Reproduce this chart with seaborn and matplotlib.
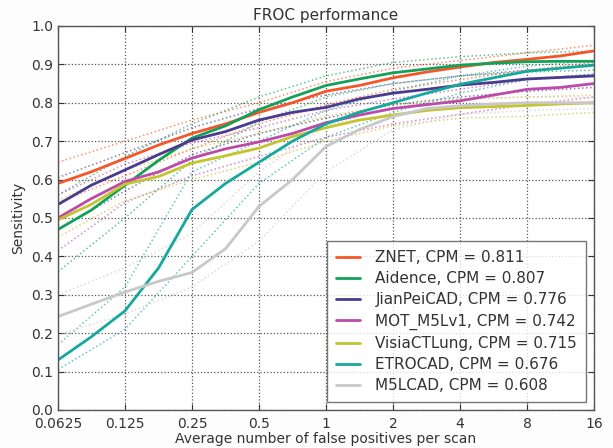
import pandas as pd
import numpy as np
import matplotlib
matplotlib.use('Agg')
import matplotlib.pyplot as plt
import seaborn as sns

# average false positives per scan (half-octave steps)
fps = [0.0625, 0.088, 0.125, 0.177, 0.25, 0.354, 0.5, 0.707, 1, 1.41, 2, 2.83, 4, 5.66, 8, 11.3, 16]
# confidence bands are read at octave steps only
band_fps = [0.0625, 0.125, 0.25, 0.5, 1, 2, 4, 8, 16]

systems = ['ZNET', 'Aidence', 'JianPeiCAD', 'MOT_M5Lv1', 'VisiaCTLung', 'ETROCAD', 'M5LCAD']
cpm = [0.811, 0.807, 0.776, 0.742, 0.715, 0.676, 0.608]
colors = ['#f4562a', '#13a058', '#4a3b8e', '#bd4aa8', '#c4c42e', '#14a99c', '#c8c8c8']

znet = [0.59, 0.62, 0.655, 0.69, 0.72, 0.745, 0.775, 0.80, 0.83, 0.845, 0.865, 0.88, 0.893, 0.905, 0.913, 0.922, 0.935]
aidence = [0.47, 0.52, 0.585, 0.65, 0.708, 0.74, 0.782, 0.815, 0.845, 0.862, 0.878, 0.888, 0.898, 0.903, 0.907, 0.908, 0.908]
jianpei = [0.535, 0.585, 0.625, 0.665, 0.703, 0.725, 0.755, 0.775, 0.788, 0.81, 0.825, 0.835, 0.846, 0.853, 0.862, 0.866, 0.87]
mot = [0.50, 0.55, 0.595, 0.62, 0.656, 0.68, 0.698, 0.72, 0.748, 0.768, 0.785, 0.795, 0.805, 0.82, 0.835, 0.84, 0.85]
visia = [0.495, 0.535, 0.588, 0.608, 0.643, 0.662, 0.682, 0.712, 0.735, 0.755, 0.768, 0.78, 0.787, 0.79, 0.793, 0.797, 0.80]
etro = [0.13, 0.19, 0.258, 0.37, 0.522, 0.59, 0.645, 0.70, 0.745, 0.775, 0.80, 0.825, 0.848, 0.865, 0.882, 0.89, 0.898]
m5l = [0.243, 0.275, 0.307, 0.335, 0.358, 0.42, 0.53, 0.60, 0.686, 0.73, 0.764, 0.785, 0.792, 0.797, 0.80, 0.80, 0.80]

znet_lo = [0.54, 0.61, 0.68, 0.745, 0.795, 0.835, 0.86, 0.885, 0.905]
znet_hi = [0.645, 0.70, 0.755, 0.80, 0.855, 0.89, 0.91, 0.93, 0.95]
aidence_lo = [0.36, 0.50, 0.65, 0.75, 0.815, 0.85, 0.87, 0.88, 0.885]
aidence_hi = [0.56, 0.66, 0.745, 0.815, 0.87, 0.905, 0.92, 0.93, 0.935]
jianpei_lo = [0.47, 0.57, 0.665, 0.72, 0.76, 0.795, 0.815, 0.83, 0.84]
jianpei_hi = [0.605, 0.67, 0.735, 0.785, 0.82, 0.85, 0.87, 0.885, 0.895]
mot_lo = [0.415, 0.54, 0.61, 0.66, 0.71, 0.745, 0.77, 0.795, 0.815]
mot_hi = [0.56, 0.64, 0.695, 0.735, 0.78, 0.81, 0.835, 0.86, 0.875]
visia_lo = [0.45, 0.545, 0.60, 0.645, 0.70, 0.74, 0.76, 0.765, 0.775]
visia_hi = [0.545, 0.625, 0.68, 0.72, 0.765, 0.795, 0.81, 0.815, 0.82]
etro_lo = [0.105, 0.21, 0.40, 0.59, 0.71, 0.775, 0.825, 0.86, 0.875]
etro_hi = [0.17, 0.32, 0.62, 0.70, 0.78, 0.83, 0.87, 0.895, 0.91]
m5l_lo = [0.195, 0.25, 0.32, 0.44, 0.62, 0.73, 0.77, 0.78, 0.785]
m5l_hi = [0.30, 0.37, 0.46, 0.62, 0.74, 0.79, 0.81, 0.815, 0.815]

curves = [znet, aidence, jianpei, mot, visia, etro, m5l]
lows = [znet_lo, aidence_lo, jianpei_lo, mot_lo, visia_lo, etro_lo, m5l_lo]
highs = [znet_hi, aidence_hi, jianpei_hi, mot_hi, visia_hi, etro_hi, m5l_hi]

labels = [f'{s}, CPM = {c:.3f}' for s, c in zip(systems, cpm)]
palette = dict(zip(labels, colors))

rows = []
for lab, ys in zip(labels, curves):
    for x, y in zip(fps, ys):
        rows.append({'fp': x, 'sens': y, 'system': lab})
df = pd.DataFrame(rows)

band_rows = []
for lab, lo, hi in zip(labels, lows, highs):
    for x, y in zip(band_fps, lo):
        band_rows.append({'fp': x, 'sens': y, 'system': lab, 'bound': 'lo'})
    for x, y in zip(band_fps, hi):
        band_rows.append({'fp': x, 'sens': y, 'system': lab, 'bound': 'hi'})
bands = pd.DataFrame(band_rows)

sns.set_style('white')
plt.rcParams['font.family'] = ['DejaVu Sans']

fig = plt.figure(figsize=(6.13, 4.48), dpi=100, facecolor='#fdfdfd')
ax = fig.add_axes([0.0946, 0.085, 0.8744, 0.857])
ax.set_facecolor('white')

# dotted confidence bands
for lab in labels:
    for b in ['lo', 'hi']:
        sub = bands[(bands['system'] == lab) & (bands['bound'] == b)]
        sns.lineplot(data=sub, x='fp', y='sens', color=palette[lab], linestyle=':',
                     linewidth=1.1, alpha=0.65, ax=ax, legend=False)

sns.lineplot(data=df, x='fp', y='sens', hue='system', palette=palette, linewidth=2,
             ax=ax, hue_order=labels)

ax.set_xscale('log', base=2)
ax.set_xlim(0.0625, 16)
ax.set_ylim(0, 1)
xt = [0.0625, 0.125, 0.25, 0.5, 1, 2, 4, 8, 16]
ax.set_xticks(xt)
ax.set_xticklabels(['0.0625', '0.125', '0.25', '0.5', '1', '2', '4', '8', '16'])
ax.minorticks_off()
ax.set_yticks(np.arange(0, 1.01, 0.1))
ax.set_yticklabels([f'{v:.1f}' for v in np.arange(0, 1.01, 0.1)])
ax.tick_params(direction='in', length=4, width=0.8, colors='#333333', labelsize=10,
               top=True, right=True, bottom=True, left=True, labelcolor='#333333')
ax.tick_params(axis='x', pad=5)
ax.grid(True, linestyle=':', color='#555555', linewidth=0.9)
for s in ax.spines.values():
    s.set_color('#555555')
    s.set_linewidth(1.0)

ax.set_xlabel('Average number of false positives per scan', fontsize=10, color='#333333', labelpad=1)
ax.set_ylabel('Sensitivity', fontsize=10, color='#333333', labelpad=4)
ax.set_title('FROC performance', fontsize=11, color='#333333', pad=4)

leg = ax.legend(loc='lower right', fontsize=11, fancybox=False, frameon=True,
                edgecolor='#555555', borderaxespad=0.5, borderpad=0.6, handlelength=1.6,
                handletextpad=1.0, labelspacing=0.4)
leg.get_frame().set_linewidth(1.0)
for t in leg.get_texts():
    t.set_color('#333333')

plt.savefig('out.png', dpi=100, facecolor=fig.get_facecolor())
plt.close()
